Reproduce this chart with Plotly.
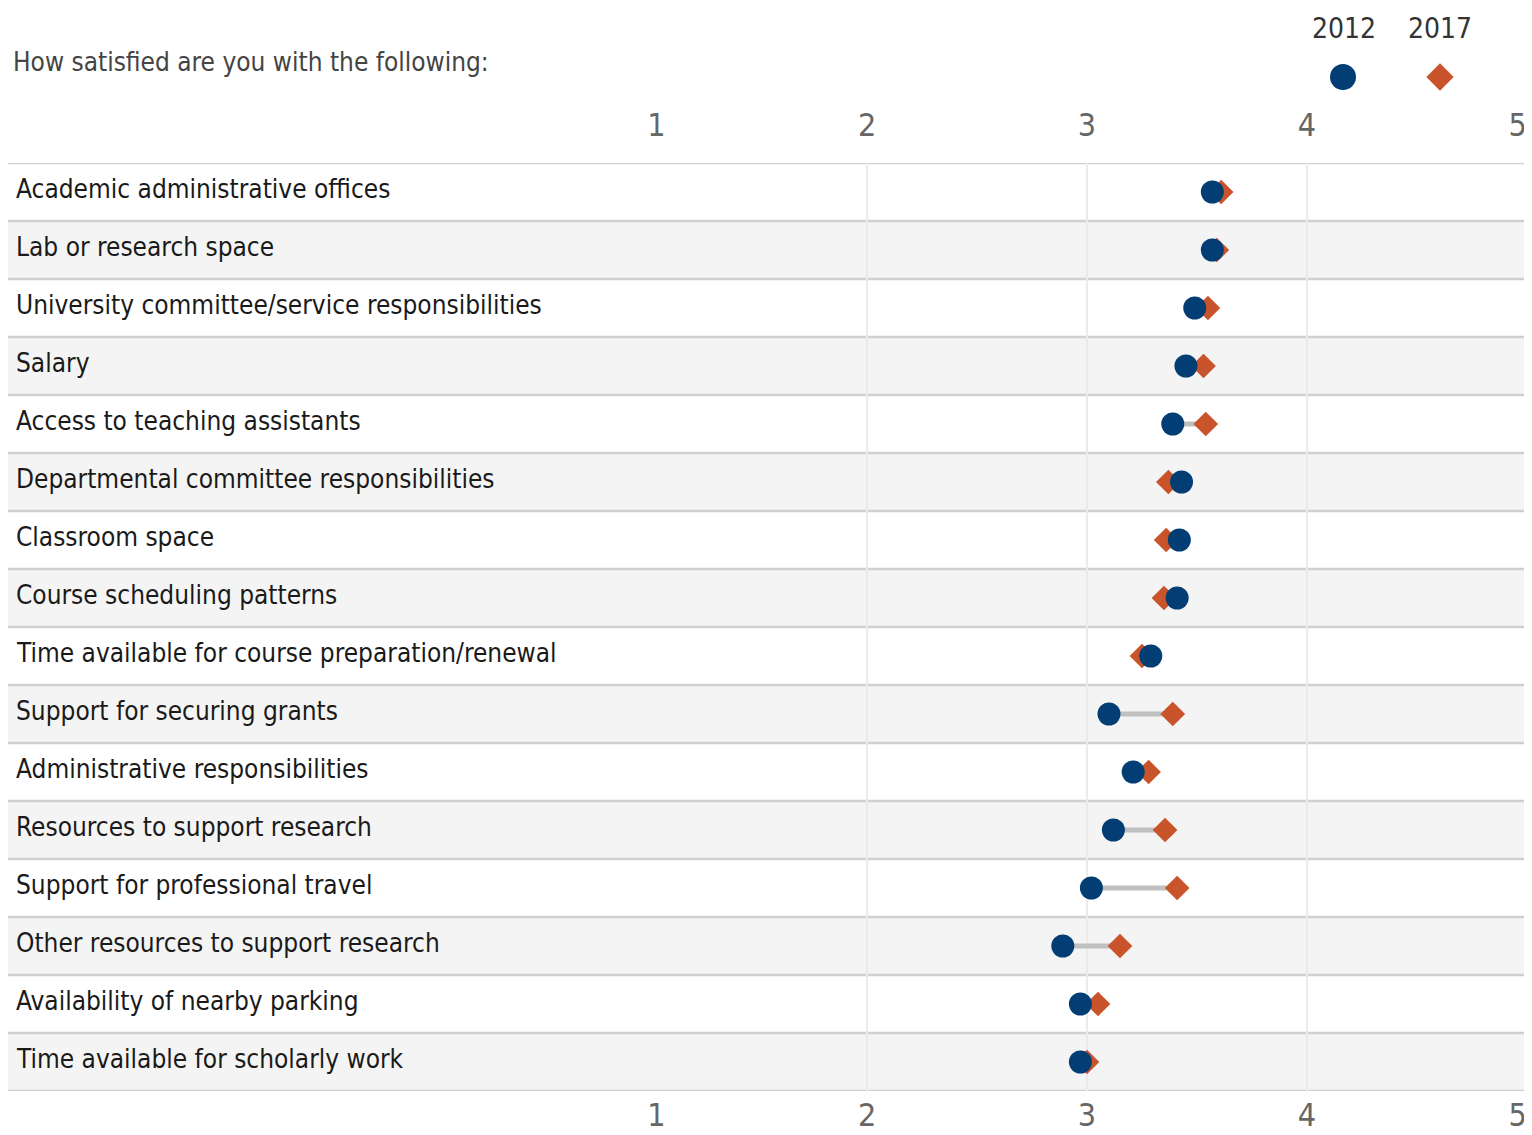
import plotly.graph_objects as go

categories = [
    "Academic administrative offices",
    "Lab or research space",
    "University committee/service responsibilities",
    "Salary",
    "Access to teaching assistants",
    "Departmental committee responsibilities",
    "Classroom space",
    "Course scheduling patterns",
    "Time available for course preparation/renewal",
    "Support for securing grants",
    "Administrative responsibilities",
    "Resources to support research",
    "Support for professional travel",
    "Other resources to support research",
    "Availability of nearby parking",
    "Time available for scholarly work",
]
v2012 = [3.57, 3.57, 3.49, 3.45, 3.39, 3.43, 3.42, 3.41, 3.29, 3.10, 3.21, 3.12, 3.02, 2.89, 2.97, 2.97]
v2017 = [3.61, 3.59, 3.55, 3.53, 3.54, 3.37, 3.36, 3.35, 3.25, 3.39, 3.28, 3.355, 3.41, 3.15, 3.05, 3.00]
tick_vals = [1, 2, 3, 4, 5]
tick_text = ["1", "2", "3", "4", "5"]
series_names = ["2012", "2017"]

FONT = "DejaVu Sans Condensed, DejaVu Sans, sans-serif"
NAVY = "#023d74"
ORANGE = "#c9532b"

# page body has an 8px margin: work in figure coordinates = screen - 8
OX = OY = 8
W, H = 1524, 1127
L, R, B = 639, 5, 44
PW = W - L - R
PH = H - B
top_px = 163 - OY
ydom_top = (PH - top_px) / PH


def px_x(sx):
    return (sx - OX - L) / PW


def px_y(sy):
    return (PH - (sy - OY)) / PH


n = len(categories)
ys = list(range(n))

fig = go.Figure()

# connectors
cx, cy = [], []
for i in range(n):
    cx += [v2012[i], v2017[i], None]
    cy += [i, i, None]
fig.add_trace(go.Scatter(x=cx, y=cy, mode="lines", line=dict(color="#c0c0c0", width=5),
                         hoverinfo="skip", showlegend=False))
fig.add_trace(go.Scatter(x=v2017, y=ys, mode="markers", name="2017",
                         marker=dict(symbol="diamond", size=19, color=ORANGE, line=dict(width=0)),
                         showlegend=False))
fig.add_trace(go.Scatter(x=v2012, y=ys, mode="markers", name="2012",
                         marker=dict(symbol="circle", size=23, color=NAVY, line=dict(width=0)),
                         showlegend=False))

# legend keys on a helper axis spanning the top margin
y3d0 = ydom_top + 0.005
leg_y = (px_y(77) - y3d0) / (1 - y3d0)
fig.add_trace(go.Scatter(x=[px_x(1343)], y=[leg_y], mode="markers", xaxis="x3", yaxis="y3",
                         marker=dict(symbol="circle", size=26, color=NAVY), showlegend=False, hoverinfo="skip"))
fig.add_trace(go.Scatter(x=[px_x(1440)], y=[leg_y], mode="markers", xaxis="x3", yaxis="y3",
                         marker=dict(symbol="diamond", size=21, color=ORANGE), showlegend=False, hoverinfo="skip"))

shapes = []
x_left = px_x(7)
for i in range(n):
    if i % 2 == 1:
        shapes.append(dict(type="rect", xref="paper", yref="y", x0=x_left, x1=1,
                           y0=i - 0.5, y1=i + 0.5, fillcolor="#f4f4f4", line=dict(width=0), layer="below"))
for i in range(n + 1):
    shapes.append(dict(type="line", xref="paper", yref="y", x0=x_left, x1=1,
                       y0=i - 0.5, y1=i - 0.5, line=dict(color="#d0d0d0", width=2.5), layer="below"))

annotations = []
for i, c in enumerate(categories):
    annotations.append(dict(text=c, xref="paper", yref="y", x=px_x(14), y=i, xanchor="left",
                            yanchor="middle", showarrow=False, yshift=3,
                            font=dict(family=FONT, size=26, color="#1a1a1a")))
annotations.append(dict(text="How satisfied are you with the following:", xref="paper", yref="paper",
                        x=px_x(11), y=px_y(62), xanchor="left", yanchor="middle",
                        showarrow=False, font=dict(family=FONT, size=26, color="#444444")))
for name, sx in zip(series_names, [1344, 1440]):
    annotations.append(dict(text=name, xref="paper", yref="paper",
                            x=px_x(sx), y=px_y(28), xanchor="center", yanchor="middle",
                            showarrow=False, font=dict(family=FONT, size=28, color="#333333")))

XR = [0.999, 5.001]
TICKFONT = dict(family=FONT, size=32, color="#666666")
base = dict(range=XR, showline=False, zeroline=False, ticks="", tickfont=TICKFONT,
            fixedrange=True, automargin=False, anchor="y")

# middle labels (with grid for every value); end labels on their own overlay axes,
# placed inside the plot edges like the reference
mid_text = [""] + tick_text[1:-1] + [""]
layout_axes = {
    "xaxis": dict(**base, side="bottom", tickvals=tick_vals, ticktext=mid_text, showgrid=True,
                  gridcolor="#ebebeb", gridwidth=1.5, ticklabelstandoff=2),
    "xaxis2": dict(**base, side="top", overlaying="x", tickvals=tick_vals, ticktext=mid_text,
                   showgrid=False, ticklabelstandoff=20),
    "xaxis4": dict(**base, side="bottom", overlaying="x", tickvals=tick_vals[:1], ticktext=tick_text[:1],
                   showgrid=False, ticklabelposition="outside right", ticklabelstandoff=2),
    "xaxis5": dict(**base, side="bottom", overlaying="x", tickvals=tick_vals[-1:], ticktext=tick_text[-1:],
                   showgrid=False, ticklabelposition="outside left", ticklabelstandoff=2),
    "xaxis6": dict(**base, side="top", overlaying="x", tickvals=tick_vals[:1], ticktext=tick_text[:1],
                   showgrid=False, ticklabelposition="outside right", ticklabelstandoff=20),
    "xaxis7": dict(**base, side="top", overlaying="x", tickvals=tick_vals[-1:], ticktext=tick_text[-1:],
                   showgrid=False, ticklabelposition="outside left", ticklabelstandoff=20),
}

fig.update_layout(
    width=W, height=H,
    margin=dict(l=L, r=R, t=0, b=B, pad=0, autoexpand=False),
    paper_bgcolor="white", plot_bgcolor="rgba(0,0,0,0)",
    yaxis=dict(domain=[0, ydom_top], range=[n - 0.5, -0.5], showticklabels=False, showgrid=False,
               zeroline=False, showline=False, fixedrange=True, automargin=False),
    xaxis3=dict(domain=[0, 1], range=[0, 1], visible=False, anchor="y3", fixedrange=True),
    yaxis3=dict(domain=[y3d0, 1], range=[0, 1], visible=False, anchor="x3", fixedrange=True),
    shapes=shapes, annotations=annotations, showlegend=False,
    **layout_axes,
)
# empty traces so the overlay axes are drawn
for ax in ["x2", "x4", "x5", "x6", "x7"]:
    fig.add_trace(go.Scatter(x=[None], y=[None], xaxis=ax, yaxis="y", showlegend=False, hoverinfo="skip"))

fig.write_html("out.html")
